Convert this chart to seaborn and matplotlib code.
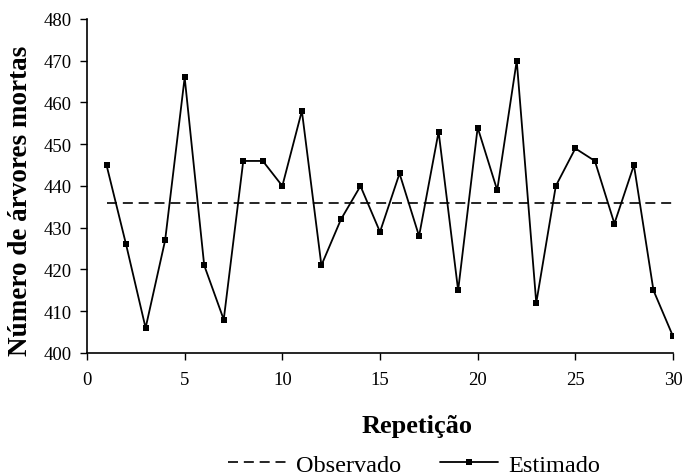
import matplotlib
matplotlib.use("Agg")
import matplotlib.pyplot as plt
import seaborn as sns
import pandas as pd

# Simulated repetitions vs. observed count of dead trees
repeticao = list(range(1, 31))
estimado = [445, 426, 406, 427, 466, 421, 408, 446, 446, 440,
            458, 421, 432, 440, 429, 443, 428, 453, 415, 454,
            439, 470, 412, 440, 449, 446, 431, 445, 415, 404]
observado = 436

df = pd.DataFrame({"Repetição": repeticao, "Estimado": estimado,
                   "Observado": [observado] * len(repeticao)})

sns.set_style("white")
plt.rcParams["font.family"] = ["Liberation Serif", "DejaVu Serif"]
plt.rcParams.update({"text.color": "black", "axes.labelcolor": "black",
                     "xtick.color": "black", "ytick.color": "black"})

fig = plt.figure(figsize=(6.84, 4.77), dpi=100)
ax = fig.add_axes([87 / 684, 1 - 354 / 477, (673 - 87) / 684, (354 - 20) / 477])

sns.lineplot(data=df, x="Repetição", y="Observado", ax=ax, color="black",
             linestyle=(0, (6, 3.5)), linewidth=1.2, label="Observado")
sns.lineplot(data=df, x="Repetição", y="Estimado", ax=ax, color="black",
             linewidth=1.3, marker="s", markersize=4.2, markeredgewidth=0,
             label="Estimado")

ax.set_xlim(0, 30)
ax.set_ylim(400, 480)
ax.set_xticks(range(0, 31, 5))
ax.set_yticks(range(400, 481, 10))
ax.tick_params(axis="both", labelsize=13.5, direction="out", length=5,
               width=1, color="black", bottom=True, left=True)
ax.tick_params(axis="x", pad=8)
ax.tick_params(axis="y", pad=6)

for s in ["top", "right"]:
    ax.spines[s].set_visible(False)
for s in ["left", "bottom"]:
    ax.spines[s].set_color("black")
    ax.spines[s].set_linewidth(1.2)

ax.set_xlabel("Repetição", fontsize=19, fontweight="bold")
ax.xaxis.set_label_coords(0.563, -0.183)
ax.set_ylabel("Número de árvores mortas", fontsize=19.5, fontweight="bold")
ax.yaxis.set_label_coords(-0.092, 0.458)

ax.legend(loc="center", bbox_to_anchor=(0.558, -0.335),
          ncol=2, frameon=False, fontsize=17.5, handlelength=2.4,
          columnspacing=1.6, handletextpad=0.4, borderaxespad=0)

fig.savefig("out.png", dpi=100)
